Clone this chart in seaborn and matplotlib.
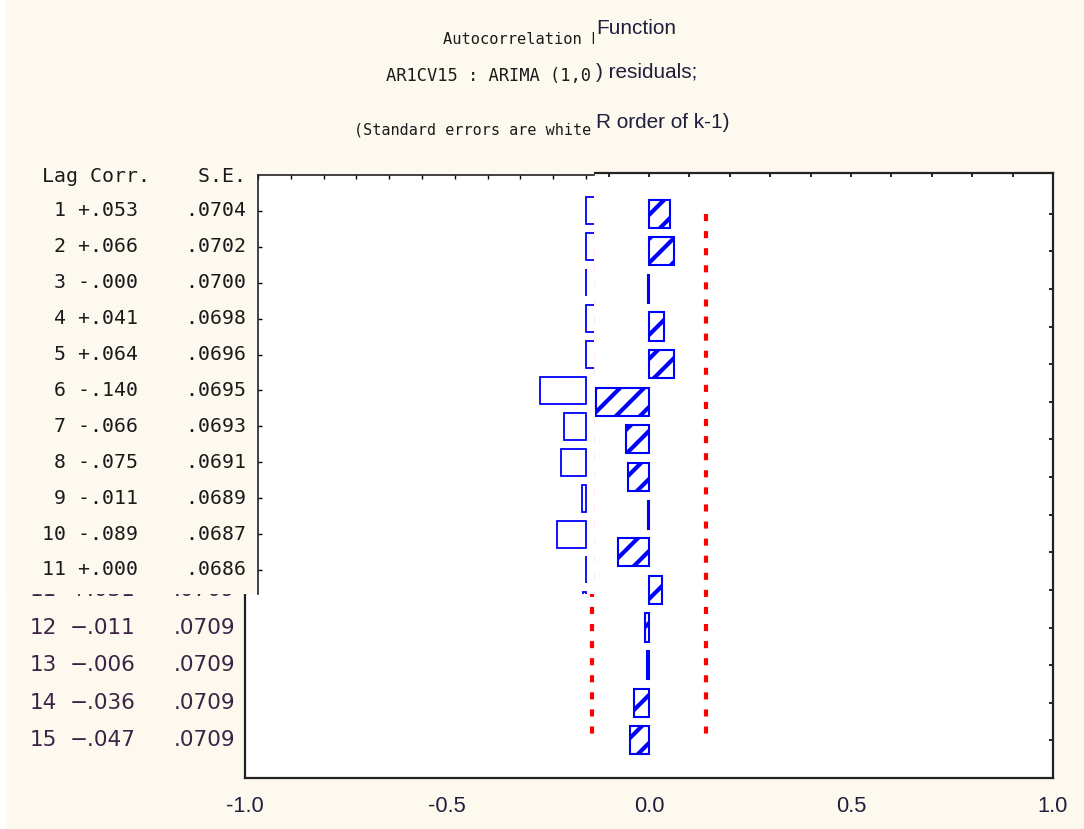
"""
Recreacion de una captura de STATISTICA: ventana ACF (retardos 1-11)
superpuesta sobre un grafico de barras de 15 retardos.

Salida: out.png (1084x829)
"""
import matplotlib
matplotlib.use("Agg")
import matplotlib.pyplot as plt
import matplotlib.transforms as mtransforms
from matplotlib import font_manager
from matplotlib.patches import Rectangle
import numpy as np
import seaborn as sns

W, H = 1084, 829
DPI = 72          # a 72 dpi el rayado "/" queda cada 12 px, como en la captura
K = 100 / DPI     # tamanos pensados en pt a 100 dpi

# --- grafico de fondo (15 retardos, barras rayadas) ---
und_lags = list(range(1, 16))
und_corr = [0.052, 0.063, -0.003, 0.038, 0.063, -0.131, -0.057, -0.052,
            -0.003, -0.077, 0.031, -0.011, -0.006, -0.036, -0.047]
und_se = [0.0709] * 15
und_title = ["Function", ") residuals;", "R order of k-1)"]
und_first_visible_row = 11   # las filas 1-10 de su tabla quedan tapadas

# --- ventana superpuesta (barras huecas) ---
ov_lags = list(range(1, 13))
ov_corr = [0.053, 0.066, -0.0, 0.041, 0.064, -0.140, -0.066, -0.075,
           -0.011, -0.089, 0.000, -0.010]
ov_se = [0.0704, 0.0702, 0.0700, 0.0698, 0.0696, 0.0695, 0.0693, 0.0691,
         0.0689, 0.0687, 0.0686]
# lo que asoma del titulo antes del borde de la ventana
ov_title = ["Autocorrelation F",
            "AR1CV15 : ARIMA (1,0",
            "(Standard errors are white"]
ov_header = "Lag Corr.    S.E."

x_ticks = [-1.0, -0.5, 0.0, 0.5, 1.0]

BEIGE = "#fdf9ef"
INK = "#1f1f3d"

sns.set_style("white")
plt.rcParams["hatch.linewidth"] = 3.0 * K
plt.rcParams["hatch.color"] = "blue"
plt.rcParams["axes.unicode_minus"] = False

_names = {f.name for f in font_manager.fontManager.ttflist}
if "Liberation Sans Narrow" in _names:
    NARROW, NSCALE = "Liberation Sans Narrow", 1.0
elif "Liberation Sans" in _names:
    NARROW, NSCALE = "Liberation Sans", 0.83
else:
    NARROW, NSCALE = "DejaVu Sans", 0.72


def box(x0, y0, x1, y1):
    """Caja en pixeles (origen arriba-izquierda) -> fracciones de figura."""
    return [x0 / W, 1 - y1 / H, (x1 - x0) / W, (y1 - y0) / H]


def fmt_corr(v):
    return f"{v:+.3f}".replace("0.", ".", 1)


def fmt_se(v):
    return f"{v:.4f}"[1:]


fig = plt.figure(figsize=(W / DPI, H / DPI), dpi=DPI, facecolor=BEIGE)
fig.patches.append(Rectangle((0, 0), 7 / W, 1, transform=fig.transFigure,
                             facecolor="white", edgecolor="none", zorder=0))

# ---------------- grafico de fondo ----------------
ax = fig.add_axes(box(245, 173, 1053, 778), zorder=1)
sns.barplot(x=und_corr, y=und_lags, orient="h", native_scale=True,
            width=0.75, color="blue", saturation=1, ax=ax)
for p in ax.patches:
    p.set_facecolor("white")
    p.set_edgecolor("blue")
    p.set_hatch("/")
    p.set_linewidth(1.5 * K)

ci = 2 * np.array(und_se)
for sign in (-1, 1):
    ax.plot(sign * ci, und_lags, color="red", lw=3 * K, ls=(0, (1.7, 2.4)),
            dash_capstyle="butt")

ax.set_facecolor("white")
ax.set_xticks(x_ticks)
ax.set_xticklabels([f"{t:.1f}" for t in x_ticks])
ax.set_xticks(np.arange(-10, 11) / 10, minor=True)
ax.set_yticks(und_lags)
ax.set_yticklabels([])
ax.set_xlim(-1, 1)
ax.set_ylim(16, -0.08)
ax.set_xlabel("")
ax.set_ylabel("")
ax.tick_params(which="both", direction="in", top=True, right=True,
               length=3 * K, width=1.2 * K, color="black")
ax.tick_params(axis="x", labelsize=19 * NSCALE * K, labelcolor=INK,
               pad=13 * K)
for lbl in ax.get_xticklabels():
    lbl.set_fontfamily(NARROW)
for s in ax.spines.values():
    s.set_visible(True)
    s.set_linewidth(1.6 * K)
    s.set_color("#222222")

# tabla del grafico de fondo: solo las filas que asoman bajo la ventana
tr_und = mtransforms.blended_transform_factory(fig.transFigure, ax.transData)
for lag, c, se in zip(und_lags, und_corr, und_se):
    if lag < und_first_visible_row:
        continue
    kw = dict(transform=tr_und, va="center", fontsize=15.5 * K,
              color="#3b2346", clip_on=False)
    ax.text(57 / W, lag, str(lag), ha="right", **kw)
    ax.text(70 / W, lag, fmt_corr(c).replace("-", "\u2212"), ha="left", **kw)
    ax.text(174 / W, lag, fmt_se(se), ha="left", **kw)

# fragmentos visibles del titulo de fondo
for txt, yc in zip(und_title, [28, 73, 122]):
    fig.text(596 / W, 1 - yc / H, txt, ha="left", va="center",
             fontfamily=NARROW, fontsize=18 * NSCALE * K, color=INK)

# ---------------- ventana superpuesta ----------------
cov = fig.add_axes(box(6, 0, 594, 594), zorder=5)
cov.set_facecolor(BEIGE)
cov.set_xlim(6, 594)
cov.set_ylim(594, 0)
cov.set_xticks([])
cov.set_yticks([])
for s in cov.spines.values():
    s.set_visible(False)

ov = fig.add_axes(box(258, 175, 594, 594), zorder=6)
sns.barplot(x=ov_corr, y=ov_lags, orient="h", native_scale=True,
            width=0.75, color="blue", saturation=1, ax=ov)
for p in ov.patches:
    p.set_facecolor("white")
    p.set_edgecolor("blue")
    p.set_linewidth(1.3 * K)
ov.set_facecolor("white")
ov.set_xticks(np.arange(-10, 1) / 10)
ov.set_yticks(ov_lags)
ov.set_xticklabels([])
ov.set_yticklabels([])
ov.set_xlim(-1.0, 0.0244)
ov.set_ylim(11.67, 0)
ov.set_xlabel("")
ov.set_ylabel("")
ov.tick_params(which="both", direction="in", top=True, bottom=False,
               left=True, right=False, length=3 * K, width=1.0 * K,
               color="black")
ov.spines["right"].set_visible(False)
ov.spines["bottom"].set_visible(False)
for side in ("left", "top"):
    ov.spines[side].set_visible(True)
    ov.spines[side].set_linewidth(1.2 * K)
    ov.spines[side].set_color("#222222")

# titulo de la ventana (recortado en su borde derecho)
for txt, x0, yc, size in zip(ov_title, [443, 386, 354], [40, 76, 130],
                             [11.1, 12.3, 10.9]):
    cov.text(x0, yc, txt, ha="left", va="center", fontsize=size * K,
             fontfamily="DejaVu Sans Mono", color="#1a1a1a", clip_on=True)

# tabla Lag / Corr. / S.E.
tr_ov = mtransforms.blended_transform_factory(cov.transData, ov.transData)
mono = dict(transform=tr_ov, ha="left", va="center", fontsize=14.35 * K,
            fontfamily="DejaVu Sans Mono", color="#1a1a1a", clip_on=True)
cov.text(42, 0.03, ov_header, **mono)
for lag, c, se in zip(ov_lags, ov_corr, ov_se):
    cov.text(42, lag, f"{lag:>2} {fmt_corr(c)}    {fmt_se(se)}", **mono)

fig.savefig("out.png", dpi=DPI, facecolor=BEIGE)
